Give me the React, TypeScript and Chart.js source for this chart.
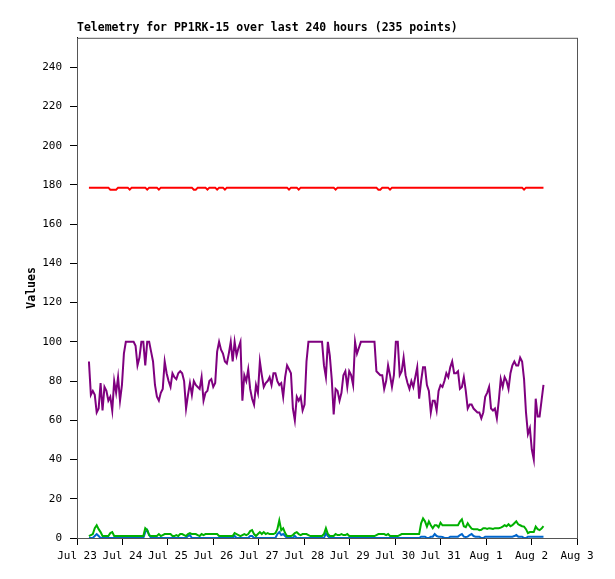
import { useEffect, useRef } from "react";
import { Chart, registerables } from "chart.js";

Chart.register(...registerables);

const TITLE = "Telemetry for PP1RK-15 over last 240 hours (235 points)";
const DAY_LABELS = ["Jul 23", "Jul 24", "Jul 25", "Jul 26", "Jul 27", "Jul 28", "Jul 29", "Jul 30", "Jul 31", "Aug 1", "Aug 2", "Aug 3"];

// hours after Jul 23 00:00 of the first sample, and the span covered by the 235 samples
const FIRST_HOUR = 6.3;
const HOURS_SPAN = 240;

const RED = [
  178.6, 178.6, 178.6, 178.6, 178.6, 178.6, 178.6, 178.6, 178.6, 178.6,
  178.6, 177.6, 177.6, 177.6, 177.6, 178.6, 178.6, 178.6, 178.6, 178.6,
  178.6, 177.6, 178.6, 178.6, 178.6, 178.6, 178.6, 178.6, 178.6, 178.6,
  177.6, 178.6, 178.6, 178.6, 178.6, 178.6, 177.6, 178.6, 178.6, 178.6,
  178.6, 178.6, 178.6, 178.6, 178.6, 178.6, 178.6, 178.6, 178.6, 178.6,
  178.6, 178.6, 178.6, 178.6, 177.6, 177.6, 178.6, 178.6, 178.6, 178.6,
  178.6, 177.6, 178.6, 178.6, 178.6, 178.6, 177.6, 178.6, 178.6, 178.6,
  177.6, 178.6, 178.6, 178.6, 178.6, 178.6, 178.6, 178.6, 178.6, 178.6,
  178.6, 178.6, 178.6, 178.6, 178.6, 178.6, 178.6, 178.6, 178.6, 178.6,
  178.6, 178.6, 178.6, 178.6, 178.6, 178.6, 178.6, 178.6, 178.6, 178.6,
  178.6, 178.6, 178.6, 177.6, 178.6, 178.6, 178.6, 178.6, 177.6, 178.6,
  178.6, 178.6, 178.6, 178.6, 178.6, 178.6, 178.6, 178.6, 178.6, 178.6,
  178.6, 178.6, 178.6, 178.6, 178.6, 178.6, 178.6, 177.6, 178.6, 178.6,
  178.6, 178.6, 178.6, 178.6, 178.6, 178.6, 178.6, 178.6, 178.6, 178.6,
  178.6, 178.6, 178.6, 178.6, 178.6, 178.6, 178.6, 178.6, 178.6, 177.6,
  177.6, 178.6, 178.6, 178.6, 178.6, 177.6, 178.6, 178.6, 178.6, 178.6,
  178.6, 178.6, 178.6, 178.6, 178.6, 178.6, 178.6, 178.6, 178.6, 178.6,
  178.6, 178.6, 178.6, 178.6, 178.6, 178.6, 178.6, 178.6, 178.6, 178.6,
  178.6, 178.6, 178.6, 178.6, 178.6, 178.6, 178.6, 178.6, 178.6, 178.6,
  178.6, 178.6, 178.6, 178.6, 178.6, 178.6, 178.6, 178.6, 178.6, 178.6,
  178.6, 178.6, 178.6, 178.6, 178.6, 178.6, 178.6, 178.6, 178.6, 178.6,
  178.6, 178.6, 178.6, 178.6, 178.6, 178.6, 178.6, 178.6, 178.6, 178.6,
  178.6, 178.6, 178.6, 178.6, 177.6, 178.6, 178.6, 178.6, 178.6, 178.6,
  178.6, 178.6, 178.6, 178.6, 178.6,
];

const PURPLE = [
  90, 73, 75, 73, 64, 66, 79, 65, 77, 75,
  70, 72, 65, 80, 74, 82, 70, 78, 94, 100,
  100, 100, 100, 100, 98, 88, 92, 100, 100, 88,
  100, 100, 95, 90, 78, 72, 70, 74, 76, 90,
  84, 80, 77, 84, 82, 81, 84, 85, 84, 80,
  66, 73, 79, 73, 80, 78, 77,
  76, 82, 70, 74, 75, 80, 81, 77, 79, 95,
  100, 96, 94, 90, 89, 94, 100, 90, 100, 93,
  97, 100, 70, 83, 80, 86, 76, 71, 68, 78,
  74, 90, 83, 77, 79, 80, 82, 78, 84, 84,
  80, 78, 79, 72, 82, 88, 86, 84, 66, 60,
  72, 70, 72, 65, 68, 90, 100, 100, 100,
  100, 100, 100, 100, 100, 88, 82, 100, 93, 81,
  63, 76, 75, 70, 74, 83, 85, 77, 85, 83,
  78, 100, 94, 97, 100, 100, 100, 100, 100, 100,
  100, 100, 85, 84, 83, 83, 76, 80, 88, 83,
  77, 83, 100, 100, 83, 85, 92, 83, 79, 76,
  80, 77, 82, 87, 71, 80, 87, 87, 78,
  75, 64, 70, 70, 65, 75, 78, 77, 80, 84,
  82, 87, 90, 84, 84, 85, 76, 77, 82, 75,
  66, 68, 68, 66, 65, 64, 64, 61, 64, 72,
  74, 77, 66, 65, 66, 61, 70, 81, 77, 82,
  80, 76, 84, 88, 90, 88, 88, 92, 90, 81,
  64, 53, 56, 45, 40, 71, 62, 62, 70, 78,
];

const GREEN = [
  1, 1.5, 2, 5, 6.5, 4.5, 3, 1, 1, 1,
  1, 2.5, 3, 1, 1, 1, 1, 1, 1, 1,
  1, 1, 1, 1, 1, 1, 1, 1, 1, 5,
  4, 1.5, 1, 1, 1, 1, 2, 1, 1.5, 2,
  2, 2, 2, 1, 1, 1.5, 1, 2, 2, 1.5,
  1, 2, 2.5, 2, 2, 2, 1.5, 1, 2, 1.5,
  2, 2, 2, 2, 2, 2, 2, 1, 1, 1,
  1, 1, 1, 1, 1, 2.5, 2, 1.5, 1, 1.5,
  2, 1.5, 2, 3.5, 4, 2, 1, 2, 3, 2,
  3, 2, 2.5, 2, 2, 2, 2.5, 4.5, 9, 4,
  5, 2.5, 1, 1, 1, 1.5, 2.5, 3, 2, 1.5,
  2, 2, 2, 1.5, 1, 1, 1,
  1, 1, 1, 1, 2, 5, 2, 1, 1, 1,
  2, 1.5, 1.5, 2, 1.5, 1.5, 2, 1, 1, 1,
  1, 1, 1, 1, 1, 1, 1, 1, 1, 1,
  1, 1.5, 2, 2, 2, 2, 1.5, 2, 1, 1,
  1, 1, 1, 1.5, 2, 2, 2, 2, 2, 2,
  2, 2, 2, 2, 7.5, 10, 8.5, 5.8, 8.4, 6.5,
  5, 6.5, 6.5, 5.5, 7.8, 6.5, 6.5, 6.5, 6.5, 6.5,
  6.5, 6.5, 6.5, 6.5, 8.4, 9.5, 6, 5.5, 7.5, 6,
  4.8, 4.5, 4.5, 4.5, 4, 4.2, 5, 5, 4.6, 5,
  4.8, 4.6, 5, 5, 5, 5.3, 5.8, 6.5, 6, 7,
  6, 6.5, 7.5, 8.5, 7, 6.5, 6, 5.8, 4.5, 2.5,
  3, 3, 3, 5.8, 4.5, 4, 4.8, 6,
];

const BLUE = [
  0, 0, 0, 1, 2, 1, 0, 0, 0, 0,
  0, 0, 0, 0, 0, 0, 0, 0, 0, 0,
  0, 0, 0, 0, 0, 0, 0, 0, 0, 3,
  4, 1.5, 0, 0, 0, 0, 0, 0, 0, 0,
  0, 0, 0, 0, 0, 0, 0, 0, 0, 0,
  0, 1, 1.5, 0, 0, 0, 0, 0, 0, 0,
  0, 0, 0, 0, 0, 0, 0, 0, 0, 0,
  0, 0, 0, 0, 0, 1, 0, 0, 0, 0,
  0, 0, 0, 1, 1, 0, 0, 0, 0, 0,
  0, 0, 0, 0, 0, 0, 0, 2, 3, 1.5,
  2, 1, 0, 0, 0, 0, 1, 0, 0, 0,
  0, 0, 0, 0, 0, 0, 0,
  0, 0, 0, 0, 0, 2.5, 1, 0, 0, 0,
  0, 0, 0, 0, 0, 0, 0, 0, 0, 0,
  0, 0, 0, 0, 0, 0, 0, 0, 0, 0,
  0, 0, 0, 0, 0, 0, 0, 0, 0, 0,
  0, 0, 0, 0, 0, 0, 0, 0, 0, 0,
  0, 0, 0, 0, 0.7, 0.7, 0.7, 0, 0, 0.7,
  0.7, 2, 1, 0.7, 0.7, 0.5, 0, 0, 0, 0.7,
  0.7, 0.7, 0.7, 0.7, 1.5, 2, 0.7, 0.5, 0.7, 1.5,
  2, 1, 0.7, 0.7, 0.7, 0, 0, 0.7, 0.7, 0.7,
  0.7, 0.7, 0.7, 0.7, 0.7, 0.7, 0.7, 0.7, 0.7, 0.7,
  0.7, 0.7, 1, 1.5, 0.7, 0.7, 0.7, 0, 0, 0.7,
  0.7, 0.7, 0.7, 0.7, 0.7, 0.7, 0.7, 0.7,
];

const FONT = "'DejaVu Sans Mono', monospace";

const toPoints = (values: number[]) =>
  values.map((y, i) => ({ x: FIRST_HOUR + (i * HOURS_SPAN) / (values.length - 1), y }));

// grey frame around the plot area (top and right edges)
const framePlugin = {
  id: "frame",
  beforeDatasetsDraw(chart: any) {
    const { ctx, chartArea } = chart;
    ctx.save();
    ctx.strokeStyle = "#555555";
    ctx.lineWidth = 1;
    ctx.strokeRect(chartArea.left + 0.5, chartArea.top + 0.5, chartArea.right - chartArea.left, chartArea.bottom - chartArea.top);
    ctx.restore();
  },
};

const TelemetryChart = () => {
  const chartRef = useRef<Chart | null>(null);
  const canvasRef = useRef<HTMLCanvasElement | null>(null);

  useEffect(() => {
    if (!canvasRef.current) return;
    if (chartRef.current) chartRef.current.destroy();

    const line = (values: number[], color: string) => ({
      data: toPoints(values),
      borderColor: color,
      backgroundColor: color,
      borderWidth: 2,
      pointRadius: 0,
      tension: 0,
      fill: false,
    });

    chartRef.current = new Chart(canvasRef.current, {
      type: "line",
      data: {
        datasets: [
          line(RED, "#ff0000"),
          line(PURPLE, "#7f007f"),
          line(GREEN, "#00b000"),
          line(BLUE, "#0066cc"),
        ],
      },
      options: {
        responsive: false,
        animation: false,
        layout: { padding: { left: 0, right: 38, top: 0, bottom: 0 } },
        scales: {
          x: {
            type: "linear",
            min: 0,
            max: 264,
            z: 1,
            afterFit: (scale: any) => {
              scale.height = 41;
            },
            ticks: {
              stepSize: 24,
              autoSkip: false,
              maxRotation: 0,
              color: "#000",
              padding: 5,
              font: { family: FONT, size: 11 },
              callback: (value: string | number) => DAY_LABELS[Math.round(Number(value) / 24)] ?? "",
            },
            grid: { drawOnChartArea: false, tickLength: 7, color: "#000" },
            border: { color: "#000", width: 1 },
          },
          y: {
            min: 0,
            max: 255,
            afterFit: (scale: any) => {
              scale.width = 77;
            },
            ticks: {
              stepSize: 20,
              includeBounds: false,
              color: "#000",
              padding: 8,
              font: { family: FONT, size: 11 },
            },
            grid: { drawOnChartArea: false, tickLength: 7, color: "#000" },
            border: { color: "#000", width: 1 },
            title: {
              display: true,
              text: "Values",
              color: "#000",
              font: { family: FONT, size: 11.5, weight: "bold" },
              padding: { top: 25, bottom: 0 },
            },
          },
        },
        plugins: {
          legend: { display: false },
          tooltip: { enabled: false },
          title: {
            display: true,
            text: TITLE,
            align: "start",
            fullSize: false,
            color: "#000",
            font: { family: FONT, size: 11.5, weight: "bold" },
            padding: { top: 21, bottom: 3 },
          },
        },
      },
      plugins: [framePlugin],
    } as any);

    return () => {
      if (chartRef.current) {
        chartRef.current.destroy();
        chartRef.current = null;
      }
    };
  }, []);

  return (
    <div style={{ position: "absolute", left: 0, top: 0, width: 615, height: 579, background: "#fff" }}>
      <canvas ref={canvasRef} width={615} height={579}></canvas>
    </div>
  );
};

export default function App() {
  return <TelemetryChart />;
}
